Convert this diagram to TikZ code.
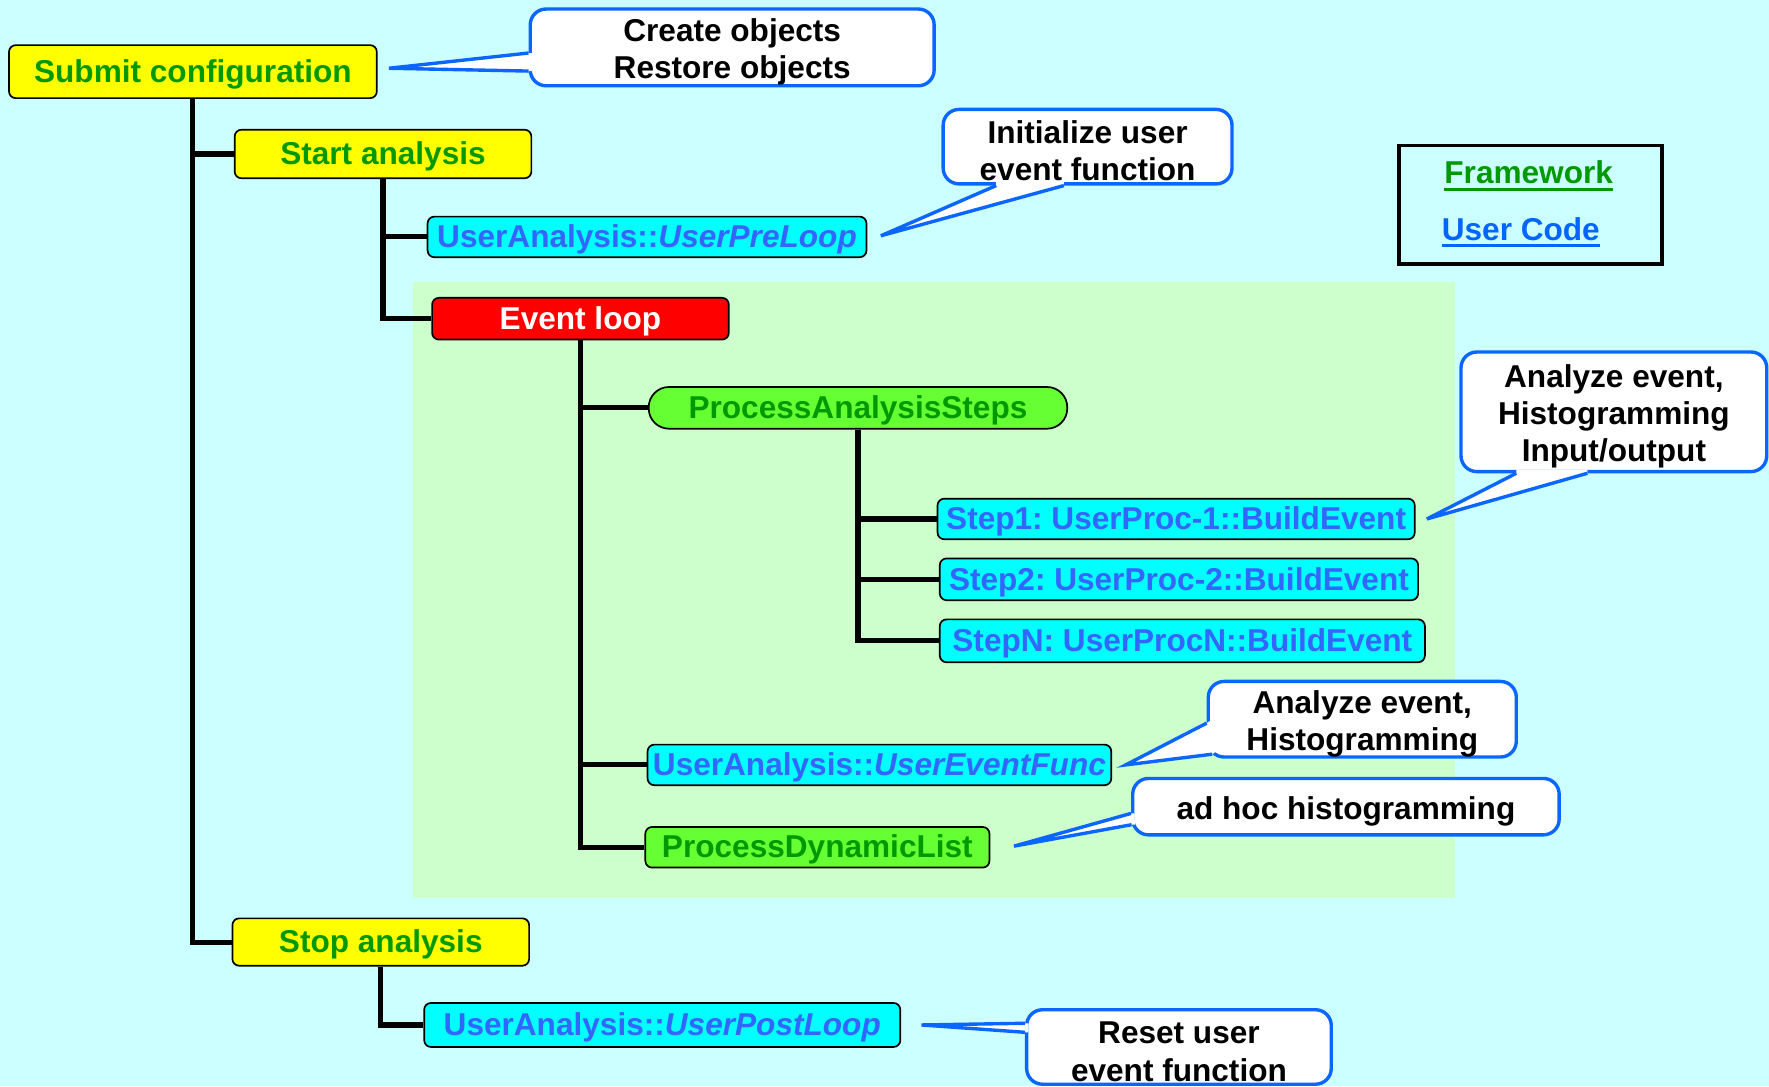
\documentclass[tikz,border=0pt]{standalone}
\usepackage{fontspec}
\setmainfont{Liberation Sans}
\usetikzlibrary{calc}
\definecolor{bgcyan}{HTML}{CCFFFF}
\definecolor{bggreen}{HTML}{CCFFCC}
\definecolor{fwgreen}{HTML}{009900}
\definecolor{ucblue}{HTML}{3366FF}
\definecolor{callblue}{HTML}{0A66FF}
\definecolor{lgblue}{HTML}{0066FF}
\definecolor{boxyellow}{HTML}{FFFF00}
\definecolor{boxcyan}{HTML}{00FFFF}
\definecolor{boxred}{HTML}{FF0000}
\definecolor{boxlime}{HTML}{66FF33}
\newcommand\myul[1]{\leavevmode\vtop{\hbox{#1}\kern3pt\hrule height 3pt}}
\newcommand\cstrut{\rule{0pt}{28pt}}
\newcommand\callptr[4]{%
  \fill[white] (#1) -- (#2) -- ($(#2)+(#4)$) -- ($(#3)+(#4)$) -- (#3) -- cycle;
  \draw[ptr] (#2) -- (#1) -- (#3);}
\frenchspacing
\begin{document}
\frenchspacing
\begin{tikzpicture}[x=1pt,y=-1pt,
  every node/.style={font=\fontsize{28}{33}\selectfont\bfseries\frenchspacing, inner sep=0pt},
  basebox/.style={draw=black, line width=1.5pt, rounded corners=6pt, text height=21pt, text depth=2pt},
  fwbox/.style={basebox, fill=boxyellow, text=fwgreen},
  ucbox/.style={basebox, fill=boxcyan, text=ucblue},
  evbox/.style={basebox, fill=boxred, text=white},
  limebox/.style={basebox, fill=boxlime, text=fwgreen},
  pillbox/.style={basebox, rounded corners=18pt, fill=boxlime, text=fwgreen},
  callbox/.style={draw=callblue, line width=3pt, rounded corners=14pt, fill=white, text=black, align=center},
  ptr/.style={draw=callblue, line width=3pt, line join=miter},
  tree/.style={draw=black, line width=4.5pt}
]
\useasboundingbox (0,0) rectangle (1568,963);
\fill[bgcyan] (0,0) rectangle (1568,963);
\fill[bggreen] (366,250) rectangle (1290,796);

% tree nodes
\node[fwbox, minimum width=326pt, minimum height=47pt] (submit) at (171,63.5) {Submit configuration};
\node[fwbox, minimum width=263pt, minimum height=43pt] (start) at (339.5,136.5) {Start analysis};
\node[ucbox, minimum width=389pt, minimum height=36pt] (pre) at (573.5,210) {UserAnalysis::\textit{UserPreLoop}};
\node[evbox, minimum width=263pt, minimum height=37pt] (ev) at (514.5,282.5) {Event loop};
\node[pillbox, minimum width=371pt, minimum height=37pt] (pas) at (760.5,361.5) {ProcessAnalysisSteps};
\node[ucbox, minimum width=423pt, minimum height=36pt] (s1) at (1042.5,460) {Step1: UserProc-1::BuildEvent};
\node[ucbox, minimum width=424pt, minimum height=37pt] (s2) at (1045,513.5) {Step2: UserProc-2::BuildEvent};
\node[ucbox, minimum width=430pt, minimum height=38pt] (sn) at (1048,568) {StepN: UserProcN::BuildEvent};
\node[ucbox, minimum width=411pt, minimum height=36pt] (uef) at (779.5,678) {UserAnalysis::\textit{UserEventFunc}};
\node[limebox, minimum width=305pt, minimum height=36pt] (pdl) at (724.5,751) {ProcessDynamicList};
\node[fwbox, minimum width=263pt, minimum height=42pt] (stop) at (337.5,835) {Stop analysis};
\node[ucbox, minimum width=422pt, minimum height=39pt] (post) at (587,908.5) {UserAnalysis::\textit{UserPostLoop}};

% tree connectors
\draw[tree] (submit.south) |- (start.west);
\draw[tree] (submit.south) |- (stop.west);
\draw[tree] (start.south) |- (pre.west);
\draw[tree] (start.south) |- (ev.west);
\draw[tree] (ev.south) |- (pas.west);
\draw[tree] (ev.south) |- (uef.west);
\draw[tree] (ev.south) |- (pdl.west);
\draw[tree] (pas.south) |- (s1.west);
\draw[tree] (pas.south) |- (s2.west);
\draw[tree] (pas.south) |- (sn.west);
\draw[tree] (stop.south) |- (post.west);

% callouts
\node[callbox, minimum width=358pt, minimum height=68pt] (c1) at (649,42) {\cstrut Create objects\\Restore objects};
\node[callbox, minimum width=256pt, minimum height=66pt] (c2) at (964,130) {\cstrut Initialize user\\event function};
\node[callbox, minimum width=271pt, minimum height=106pt] (c3) at (1430.5,365) {\cstrut Analyze event,\\Histogramming\\Input/output};
\node[callbox, minimum width=273pt, minimum height=67pt] (c4) at (1207.5,637.5) {\cstrut Analyze event,\\Histogramming};
\node[callbox, minimum width=378pt, minimum height=50pt] (c5) at (1193,715) {\cstrut ad hoc histogramming};
\node[callbox, minimum width=270pt, minimum height=66pt] (c6) at (1045,928) {\cstrut Reset user\\event function};

\coordinate (t1) at ($(submit.east)+(10,-3)$);
\coordinate (a1) at ($(c1.west)+(0,5)$);
\coordinate (b1) at ($(c1.west)+(0,21)$);
\callptr{t1}{a1}{b1}{3,0}

\coordinate (t2) at ($(pre.east)+(12,-1)$);
\coordinate (a2) at ($(c2.south)+(-81,0)$);
\coordinate (b2) at ($(c2.south)+(-21,0)$);
\callptr{t2}{a2}{b2}{0,-3}

\coordinate (t3) at ($(s1.east)+(10,0)$);
\coordinate (a3) at ($(c3.south)+(-86.5,0)$);
\coordinate (b3) at ($(c3.south)+(-23.5,0)$);
\callptr{t3}{a3}{b3}{0,-3}

\coordinate (t4) at ($(uef.east)+(12,0)$);
\coordinate (a4) at ($(c4.west)+(0,3.5)$);
\coordinate (b4) at ($(c4.south west)+(5,-4)$);
\callptr{t4}{a4}{b4}{3,-2}

\coordinate (t5) at ($(pdl.east)+(21,-1)$);
\coordinate (a5) at ($(c5.west)+(0,6)$);
\coordinate (b5) at ($(c5.west)+(0.5,16)$);
\callptr{t5}{a5}{b5}{3,0}

\coordinate (t6) at ($(post.east)+(18,0)$);
\coordinate (a6) at ($(c6.west)+(0,-21)$);
\coordinate (b6) at ($(c6.west)+(0,-13)$);
\callptr{t6}{a6}{b6}{3,0}

% legend
\node[draw=black, line width=3pt, minimum width=233pt, minimum height=105pt] (legend) at (1356.5,181.5) {};
\node[text=fwgreen, anchor=base] (lgfw) at (1355,163) {\myul{Framework}};
\node[text=lgblue, anchor=base] (lguc) at (1348,213) {\myul{User Code}};
\end{tikzpicture}
\end{document}
